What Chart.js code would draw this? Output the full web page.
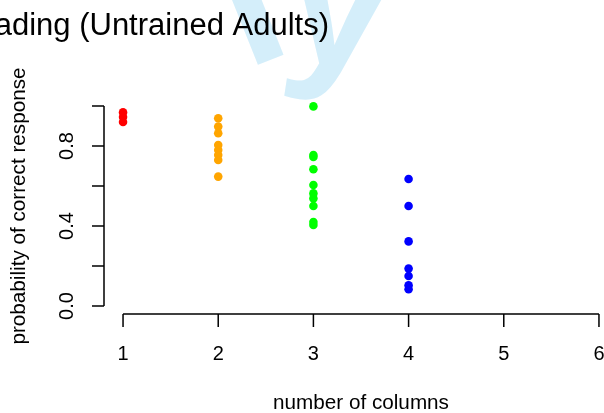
<!DOCTYPE html>
<html>
<head>
<meta charset="utf-8">
<script src="https://cdn.jsdelivr.net/npm/chart.js@4.4.1/dist/chart.umd.min.js"></script>
<style>
  html, body { margin: 0; padding: 0; overflow: hidden; background: #fff; }
  #wrap { width: 640px; height: 413px; }
</style>
</head>
<body>
<div id="wrap"><canvas id="plot"></canvas></div>
<script>
// values
const columns = [1, 2, 3, 4];
const redVals = [0.968, 0.945, 0.92];
const orangeVals = [0.939, 0.897, 0.864, 0.805, 0.78, 0.755, 0.73, 0.647];
const greenVals = [0.998, 0.755, 0.745, 0.684, 0.605, 0.563, 0.538, 0.5, 0.42, 0.405];
const blueVals = [0.635, 0.5, 0.323, 0.187, 0.15, 0.104, 0.084];
const groupColors = ['#ff0000', '#ffa500', '#00ff00', '#0000ff'];

const xTicks = [1, 2, 3, 4, 5, 6];
const yTicks = [0, 0.2, 0.4, 0.6, 0.8, 1.0];
const yTickLabels = ['0.0', '', '0.4', '', '0.8', ''];

const titleText = 'ading (Untrained Adults)';
const xTitle = 'number of columns';
const yTitle = 'probability of correct response';

const FONT = '"Liberation Sans", Arial, Helvetica, sans-serif';

const groups = [redVals, orangeVals, greenVals, blueVals];
const datasets = groups.map((vals, i) => ({
  data: vals.map(v => ({ x: columns[i], y: v })),
  pointRadius: 4.3,
  pointBorderWidth: 0,
  pointBackgroundColor: groupColors[i],
  showLine: false
}));

// base-graphics style axes, titles and the faint watermark
const rStyle = {
  id: 'rStyle',
  beforeDatasetsDraw(chart) {
    const ctx = chart.ctx;
    ctx.save();
    ctx.fillStyle = '#d4eefa';
    ctx.textBaseline = 'alphabetic';
    ctx.font = 'bold 200px ' + FONT;
    ctx.save();
    ctx.translate(245, 70);
    ctx.rotate(-0.38);
    ctx.fillText('l', 0, 0);
    ctx.restore();
    ctx.font = 'bold 180px ' + FONT;
    ctx.save();
    ctx.translate(330, 66);
    ctx.rotate(0.15);
    ctx.fillText('y', -50, 0);
    ctx.restore();
    ctx.restore();
  },
  afterDraw(chart) {
    const { ctx, chartArea, scales: { x, y } } = chart;
    ctx.save();
    ctx.strokeStyle = '#000';
    ctx.fillStyle = '#000';
    ctx.lineWidth = 1.5;

    // x axis
    const xb = chartArea.bottom;
    ctx.beginPath();
    ctx.moveTo(x.getPixelForValue(xTicks[0]), xb);
    ctx.lineTo(x.getPixelForValue(xTicks[xTicks.length - 1]), xb);
    xTicks.forEach(t => {
      const px = x.getPixelForValue(t);
      ctx.moveTo(px, xb);
      ctx.lineTo(px, xb + 13);
    });
    // y axis
    const yl = chartArea.left;
    ctx.moveTo(yl, y.getPixelForValue(yTicks[0]));
    ctx.lineTo(yl, y.getPixelForValue(yTicks[yTicks.length - 1]));
    yTicks.forEach(t => {
      const py = y.getPixelForValue(t);
      ctx.moveTo(yl, py);
      ctx.lineTo(yl - 12, py);
    });
    ctx.stroke();

    ctx.font = '20px ' + FONT;
    ctx.textAlign = 'center';
    ctx.textBaseline = 'alphabetic';
    xTicks.forEach(t => {
      ctx.fillText(String(t), x.getPixelForValue(t), xb + 45.5);
    });
    yTicks.forEach((t, i) => {
      if (!yTickLabels[i]) return;
      ctx.save();
      ctx.translate(yl - 31.5, y.getPixelForValue(t));
      ctx.rotate(-Math.PI / 2);
      ctx.fillText(yTickLabels[i], 0, 0);
      ctx.restore();
    });

    ctx.font = '20.7px ' + FONT;
    ctx.fillText(xTitle, (chartArea.left + chartArea.right) / 2, xb + 95);
    ctx.save();
    ctx.translate(25, (chartArea.top + chartArea.bottom) / 2);
    ctx.rotate(-Math.PI / 2);
    ctx.fillText(yTitle, 0, 0);
    ctx.restore();

    ctx.font = '31px ' + FONT;
    ctx.textAlign = 'right';
    ctx.fillText(titleText, 329, 35);
    ctx.restore();
  }
};

new Chart(document.getElementById('plot'), {
  type: 'scatter',
  data: { datasets },
  options: {
    responsive: true,
    maintainAspectRatio: false,
    animation: false,
    layout: { padding: { left: 104, right: 22, top: 98, bottom: 99 } },
    plugins: {
      legend: { display: false },
      tooltip: { enabled: false },
      title: { display: false }
    },
    scales: {
      x: { type: 'linear', min: 0.8, max: 6.2, display: false },
      y: { type: 'linear', min: -0.04, max: 1.04, display: false }
    }
  },
  plugins: [rStyle]
});
</script>
</body>
</html>
